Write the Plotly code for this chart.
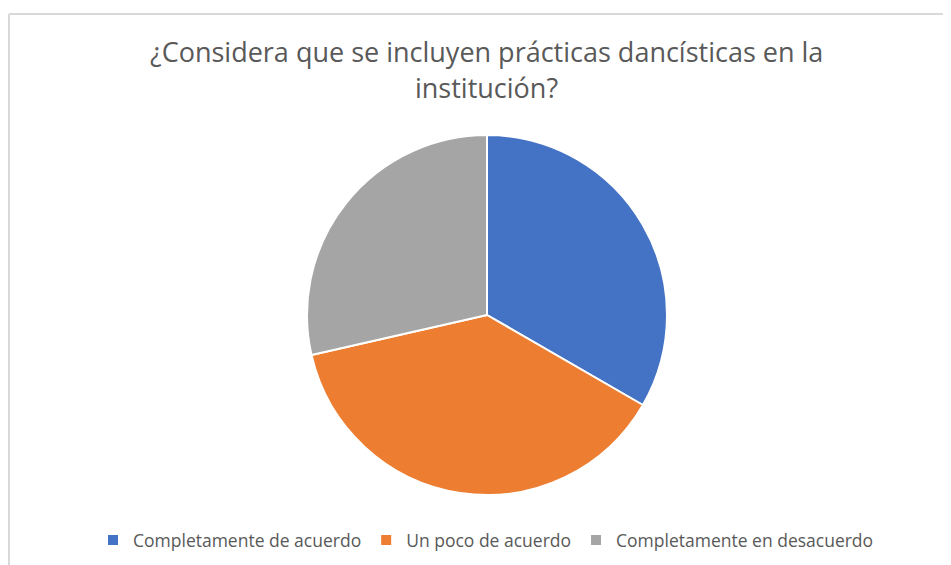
import plotly.graph_objects as go

categories = ["Completamente de acuerdo", "Un poco de acuerdo", "Completamente en desacuerdo"]
values = [7, 8, 6]
colors = ["#4472C4", "#ED7D31", "#A5A5A5"]
title_lines = ["¿Considera que se incluyen prácticas dancísticas en la", "institución?"]

# page offset (browser body margin) compensation
OFF = 8
W, H = 951 - OFF, 565 - OFF
cx, cy, r = 487 - OFF, 315 - OFF, 180


def px(x):
    return x / W


def py(y):
    return 1 - y / H


fig = go.Figure(go.Pie(
    labels=categories,
    values=values,
    sort=False,
    direction="clockwise",
    rotation=0,
    marker=dict(colors=colors, line=dict(color="white", width=2)),
    textinfo="none",
    hoverinfo="label+value+percent",
    domain=dict(x=[px(cx - r), px(cx + r)], y=[py(cy + r), py(cy - r)]),
))

font_family = "Open Sans, Liberation Sans, sans-serif"
title_y = [51 - OFF, 88 - OFF]
annotations = []
for line, yy in zip(title_lines, title_y):
    annotations.append(dict(
        text=line, x=px(486 - OFF), y=py(yy), xref="paper", yref="paper",
        xanchor="center", yanchor="middle", showarrow=False,
        font=dict(family=font_family, size=27, color="#595959"),
    ))

fig.update_layout(
    width=W, height=H,
    margin=dict(l=0, r=0, t=0, b=0),
    paper_bgcolor="white",
    plot_bgcolor="white",
    annotations=annotations,
    showlegend=True,
    legend=dict(
        orientation="h", x=px(486 - OFF), xanchor="center", y=py(540 - OFF), yanchor="middle",
        font=dict(family=font_family, size=17.5, color="#595959"),
        itemwidth=30, tracegroupgap=0,
    ),
    shapes=[
        dict(type="line", xref="paper", yref="paper", x0=px(1), x1=1, y0=py(14 - OFF), y1=py(14 - OFF),
             line=dict(color="#D9D9D9", width=2)),
        dict(type="line", xref="paper", yref="paper", x0=px(1), x1=px(1), y0=0, y1=py(14 - OFF),
             line=dict(color="#D9D9D9", width=2)),
    ],
)

fig.write_html("out.html")
